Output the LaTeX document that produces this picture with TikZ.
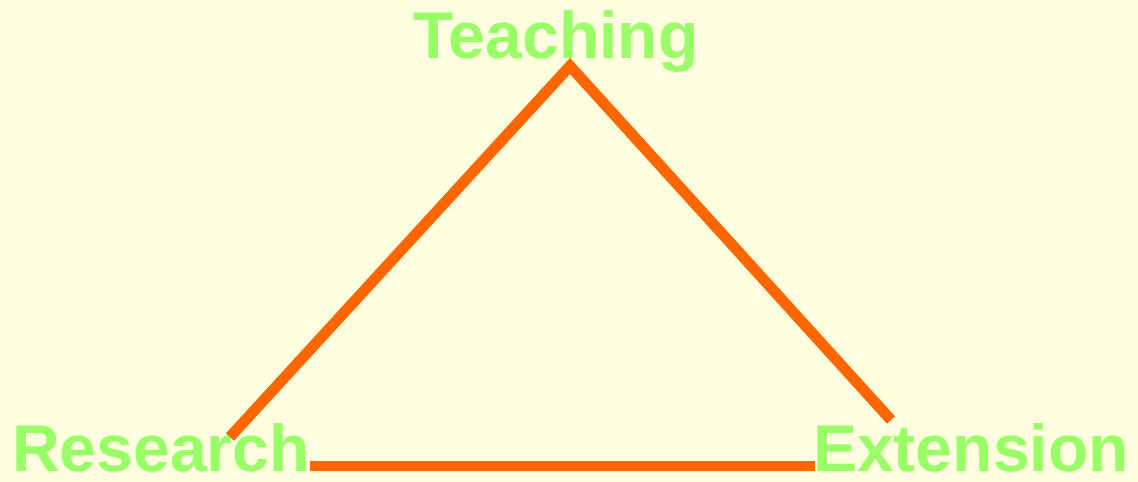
\documentclass[tikz,border=0pt]{standalone}
\usepackage{fontspec}
\setmainfont{Liberation Sans}
\usepackage{xcolor}
\usetikzlibrary{positioning,calc}
\definecolor{PaleBg}{HTML}{FFFFE0}
\definecolor{LabelGreen}{HTML}{99FF66}
\definecolor{EdgeOrange}{HTML}{FF6600}

\begin{document}
\begin{tikzpicture}[x=0.01cm, y=0.01cm,
    every node/.style={font=\fontsize{18.8}{22}\selectfont\bfseries, text=LabelGreen, inner sep=0pt},
    edge/.style={EdgeOrange, line width=3.1pt, line cap=butt, line join=miter}]
        % Background
        \fill[PaleBg] (0,0) rectangle (1138,482);
        \useasboundingbox (0,0) rectangle (1138,482);

        % Labels
        \node[anchor=base] (teach) at (556,423) {Teaching};
        \node[anchor=base] (res) at (161,10) {Research};
        \node[anchor=base] (ext) at (971,10) {Extension};

        % Line ends
        \coordinate (apex) at (570,416);
        \coordinate (resTop) at (230,45);
        \coordinate (extTop) at (891,62);
        \coordinate (resEnd) at (310,16);
        \coordinate (extEnd) at (815,16);

        % Triangle
        \draw[edge] (resTop) -- (apex) -- (extTop);
        \draw[edge] (resEnd) -- (extEnd);
    \end{tikzpicture}
\end{document}
